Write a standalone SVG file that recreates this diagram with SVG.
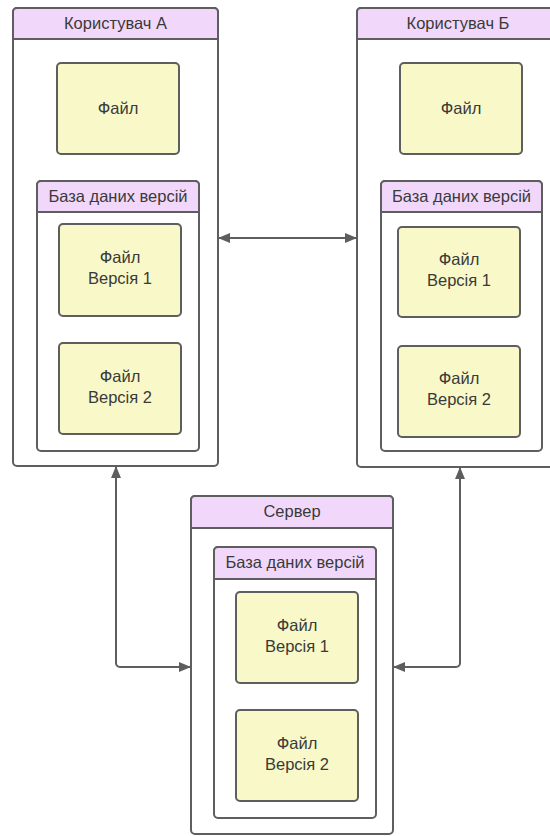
<svg xmlns="http://www.w3.org/2000/svg" width="550" height="836" viewBox="0 0 550 836">
<style>
.frame{fill:#ffffff;stroke:#5e5e5e;stroke-width:2}
.head{fill:#f1d8fa;stroke:#5e5e5e;stroke-width:2}
.file{fill:#f9f8c8;stroke:#5e5e5e;stroke-width:2}
.conn{fill:none;stroke:#5e5e5e;stroke-width:2}
text{font-family:"Liberation Sans",Arial,sans-serif;font-size:16.5px;fill:#3a3a3a;text-anchor:middle}
</style>
<defs>
<marker id="ah" viewBox="0 0 12 10" refX="11" refY="5" markerWidth="12" markerHeight="10" orient="auto-start-reverse" markerUnits="userSpaceOnUse">
<path d="M0,0 L12,5 L0,10 z" fill="#5e5e5e"/>
</marker>
</defs>

<g id="userA">
<rect class="frame" x="13" y="8" width="205" height="458" rx="4"/>
<path class="head" d="M13,39 V12 a4,4 0 0 1 4,-4 H214 a4,4 0 0 1 4,4 V39 Z"/>
<text x="115.5" y="29">Користувач А</text>
<g id="fileA">
<rect class="file" x="57" y="63" width="122" height="91" rx="4"/>
<text x="118" y="114">Файл</text>
</g>
<g id="dbA">
<rect class="frame" x="37" y="181" width="162" height="270" rx="4"/>
<path class="head" d="M37,212 V185 a4,4 0 0 1 4,-4 H195 a4,4 0 0 1 4,4 V212 Z"/>
<text x="118" y="202">База даних версій</text>
<g id="dbA_v1">
<rect class="file" x="59" y="224" width="122" height="92" rx="4"/>
<text x="120" y="263">Файл</text>
<text x="120" y="284">Версія 1</text>
</g>
<g id="dbA_v2">
<rect class="file" x="59" y="343" width="122" height="91" rx="4"/>
<text x="120" y="382">Файл</text>
<text x="120" y="403">Версія 2</text>
</g>
</g>
</g>

<g id="userB">
<rect class="frame" x="357" y="8" width="205" height="459" rx="4"/>
<path class="head" d="M357,39 V12 a4,4 0 0 1 4,-4 H558 a4,4 0 0 1 4,4 V39 Z"/>
<text x="458" y="29">Користувач Б</text>
<g id="fileB">
<rect class="file" x="400" y="63" width="122" height="91" rx="4"/>
<text x="461" y="114">Файл</text>
</g>
<g id="dbB">
<rect class="frame" x="381" y="181" width="161" height="270" rx="4"/>
<path class="head" d="M381,212 V185 a4,4 0 0 1 4,-4 H538 a4,4 0 0 1 4,4 V212 Z"/>
<text x="461.5" y="202">База даних версій</text>
<g id="dbB_v1">
<rect class="file" x="398" y="227" width="122" height="90" rx="4"/>
<text x="459" y="265">Файл</text>
<text x="459" y="286">Версія 1</text>
</g>
<g id="dbB_v2">
<rect class="file" x="398" y="346" width="122" height="91" rx="4"/>
<text x="459" y="384">Файл</text>
<text x="459" y="405">Версія 2</text>
</g>
</g>
</g>

<g id="server">
<rect class="frame" x="191" y="496" width="202" height="338" rx="4"/>
<path class="head" d="M191,528 V500 a4,4 0 0 1 4,-4 H389 a4,4 0 0 1 4,4 V528 Z"/>
<text x="292" y="517">Сервер</text>
<g id="dbS">
<rect class="frame" x="214" y="547" width="162" height="271" rx="4"/>
<path class="head" d="M214,579 V551 a4,4 0 0 1 4,-4 H372 a4,4 0 0 1 4,4 V579 Z"/>
<text x="295" y="568">База даних версій</text>
<g id="dbS_v1">
<rect class="file" x="236" y="592" width="122" height="91" rx="4"/>
<text x="297" y="631">Файл</text>
<text x="297" y="652">Версія 1</text>
</g>
<g id="dbS_v2">
<rect class="file" x="236" y="710" width="122" height="91" rx="4"/>
<text x="297" y="749">Файл</text>
<text x="297" y="770">Версія 2</text>
</g>
</g>
</g>

<g id="connectors">
<path class="conn" d="M219,238 H356" marker-start="url(#ah)" marker-end="url(#ah)"/>
<path class="conn" d="M116,467 V663 a4,4 0 0 0 4,4 H190" marker-start="url(#ah)" marker-end="url(#ah)"/>
<path class="conn" d="M460,468 V663 a4,4 0 0 1 -4,4 H394" marker-start="url(#ah)" marker-end="url(#ah)"/>
</g>
</svg>
